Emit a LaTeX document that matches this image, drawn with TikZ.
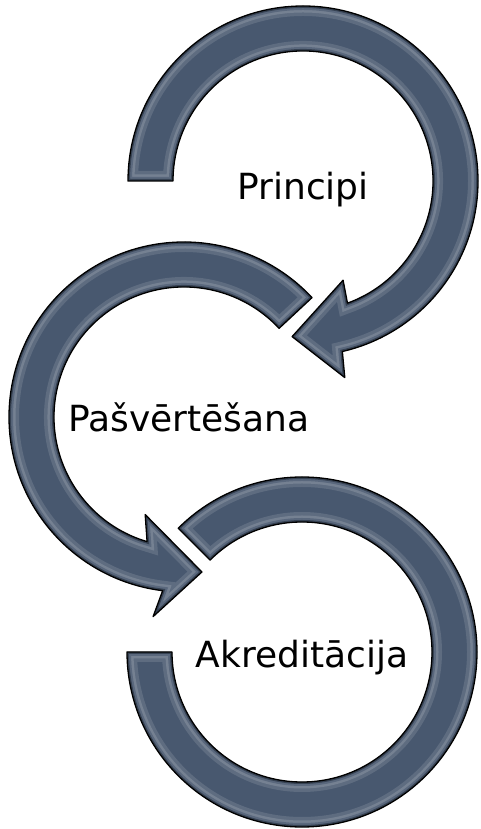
\documentclass[tikz,border=0pt]{standalone}
\usepackage{fontspec}
\setmainfont{DejaVu Sans}
\definecolor{arrowfill}{RGB}{72,88,111}
\definecolor{arrowdark}{RGB}{40,50,66}
\tikzset{
  arrowedge/.style={draw=black, line width=1.3pt, line join=round},
  steplabel/.style={anchor=base, inner sep=0pt, font=\fontsize{36}{40}\selectfont, text=black}
}
\newcommand{\bevelarrow}[1]{%
  \fill[arrowfill] #1;
  \begin{scope}
    \clip #1;
    \draw[white, opacity=0.12, line width=20pt] #1;
    \draw[white, opacity=0.15, line width=13pt] #1;
    \draw[arrowfill, opacity=0.6, line width=8pt] #1;
    \draw[arrowdark, opacity=0.7, line width=4pt] #1;
  \end{scope}
  \draw[arrowedge] #1;
}
\begin{document}
\begin{tikzpicture}
\useasboundingbox[fill=white] (0pt,0pt) rectangle (480pt,829pt);
% arrow 3 (bottom)
\begin{scope}[shift={(302pt,177pt)}]
  \bevelarrow{(135:175pt) arc[start angle=135, end angle=-180, radius=175pt] -- (-180:130pt) arc[start angle=-180, end angle=135, radius=130pt] -- cycle}
\end{scope}
% arrow 2 (middle)
\begin{scope}[shift={(184pt,412pt)}]
  \bevelarrow{(43:175pt) arc[start angle=43, end angle=263, radius=175pt] -- (261.2:202pt) -- (276.6:156pt) -- (248.3:105pt) -- (253.5:130pt) arc[start angle=253.5, end angle=43, radius=130pt] -- cycle}
\end{scope}
% arrow 1 (top)
\begin{scope}[shift={(303pt,648pt)}]
  \bevelarrow{(180:175pt) arc[start angle=180, end angle=-77, radius=175pt] -- (-78:201pt) -- (-94:156pt) -- (-68:107pt) -- (-70:130pt) arc[start angle=-70, end angle=180, radius=130pt] -- cycle}
\end{scope}
\node[steplabel] (t1) at (303pt,629pt) {Principi};
\node[steplabel] (t2) at (189pt,397pt) {Pašvērtēšana};
\node[steplabel] (t3) at (302pt,161pt) {Akreditācija};
\end{tikzpicture}
\end{document}
